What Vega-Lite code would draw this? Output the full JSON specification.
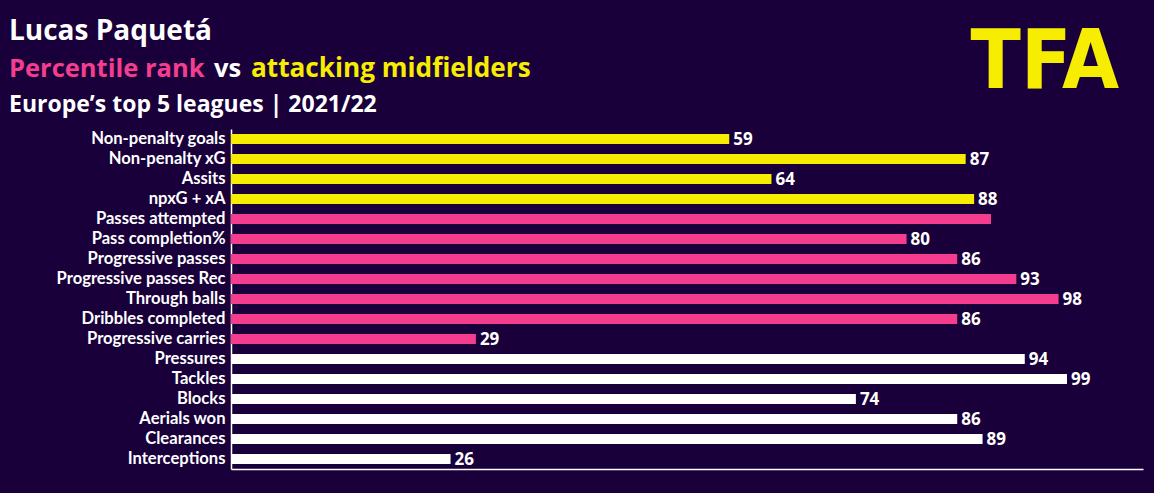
{
  "$schema": "https://vega.github.io/schema/vega-lite/v6.json",
  "autosize": {"type": "none"},
  "width": 912,
  "height": 340,
  "padding": {"left": 231, "top": 129, "right": 11, "bottom": 24},
  "background": "#19003b",
  "config": {"view": {"stroke": null}, "font": "Open Sans"},
  "layer": [
    {
      "data": {"values": [
        {"metric": "Non-penalty goals", "value": 59, "group": "Attacking", "label": "59"},
        {"metric": "Non-penalty xG", "value": 87, "group": "Attacking", "label": "87"},
        {"metric": "Assits", "value": 64, "group": "Attacking", "label": "64"},
        {"metric": "npxG + xA", "value": 88, "group": "Attacking", "label": "88"},
        {"metric": "Passes attempted", "value": 90, "group": "Passing", "label": ""},
        {"metric": "Pass completion%", "value": 80, "group": "Passing", "label": "80"},
        {"metric": "Progressive passes", "value": 86, "group": "Passing", "label": "86"},
        {"metric": "Progressive passes Rec", "value": 93, "group": "Passing", "label": "93"},
        {"metric": "Through balls", "value": 98, "group": "Passing", "label": "98"},
        {"metric": "Dribbles completed", "value": 86, "group": "Passing", "label": "86"},
        {"metric": "Progressive carries", "value": 29, "group": "Passing", "label": "29"},
        {"metric": "Pressures", "value": 94, "group": "Defending", "label": "94"},
        {"metric": "Tackles", "value": 99, "group": "Defending", "label": "99"},
        {"metric": "Blocks", "value": 74, "group": "Defending", "label": "74"},
        {"metric": "Aerials won", "value": 86, "group": "Defending", "label": "86"},
        {"metric": "Clearances", "value": 89, "group": "Defending", "label": "89"},
        {"metric": "Interceptions", "value": 26, "group": "Defending", "label": "26"}
      ]},
      "encoding": {
        "y": {"field": "metric", "type": "nominal", "sort": null,
          "scale": {"paddingInner": 0.5, "paddingOuter": 0.25},
          "axis": {"title": null, "domainColor": "#ffffff", "domainWidth": 1.5, "ticks": false, "labelLimit": 400,
            "labelColor": "#ffffff", "labelFont": "Lato", "labelFontWeight": "bold", "labelFontSize": 16.6, "labelPadding": 6}},
        "x": {"field": "value", "type": "quantitative", "scale": {"domain": [0, 108], "nice": false},
          "axis": {"title": null, "labels": false, "ticks": false, "grid": false, "domainColor": "#ffffff", "domainWidth": 1.5}}
      },
      "layer": [
        {"mark": {"type": "bar"},
         "encoding": {"color": {"field": "group", "type": "nominal", "legend": null,
           "scale": {"domain": ["Attacking", "Passing", "Defending"], "range": ["#f7ed00", "#f53d8f", "#ffffff"]}}}},
        {"mark": {"type": "text", "align": "left", "baseline": "middle", "dx": 4, "dy": 1, "color": "#ffffff",
           "font": "Open Sans", "fontWeight": "bold", "fontSize": 17},
         "encoding": {"text": {"field": "label", "type": "nominal"}}}
      ]
    },
    {"data": {"values": [{"t": "Lucas Paquetá"}]},
     "mark": {"type": "text", "align": "left", "baseline": "alphabetic", "x": -222, "y": -89, "color": "#ffffff",
       "font": "Open Sans", "fontWeight": "bold", "fontSize": 28},
     "encoding": {"text": {"field": "t"}}},
    {"data": {"values": [{"t": "Percentile rank"}]},
     "mark": {"type": "text", "align": "left", "baseline": "alphabetic", "x": -222, "y": -52, "color": "#f53d8f",
       "font": "Open Sans", "fontWeight": "bold", "fontSize": 25.5},
     "encoding": {"text": {"field": "t"}}},
    {"data": {"values": [{"t": "vs"}]},
     "mark": {"type": "text", "align": "left", "baseline": "alphabetic", "x": -17, "y": -52, "color": "#ffffff",
       "font": "Open Sans", "fontWeight": "bold", "fontSize": 25.5},
     "encoding": {"text": {"field": "t"}}},
    {"data": {"values": [{"t": "attacking midfielders"}]},
     "mark": {"type": "text", "align": "left", "baseline": "alphabetic", "x": 20, "y": -52, "color": "#f7ed00",
       "font": "Open Sans", "fontWeight": "bold", "fontSize": 26.2},
     "encoding": {"text": {"field": "t"}}},
    {"data": {"values": [{"t": "Europe’s top 5 leagues | 2021/22"}]},
     "mark": {"type": "text", "align": "left", "baseline": "alphabetic", "x": -222, "y": -17, "color": "#ffffff",
       "font": "Open Sans", "fontWeight": "bold", "fontSize": 23},
     "encoding": {"text": {"field": "t"}}},
    {"data": {"values": [{"t": "TFA"}]},
     "mark": {"type": "text", "align": "right", "baseline": "alphabetic", "x": 888, "y": -41, "color": "#f7ed00",
       "font": "DejaVu Sans Condensed", "fontWeight": "bold", "fontSize": 82},
     "encoding": {"text": {"field": "t"}}}
  ]
}
